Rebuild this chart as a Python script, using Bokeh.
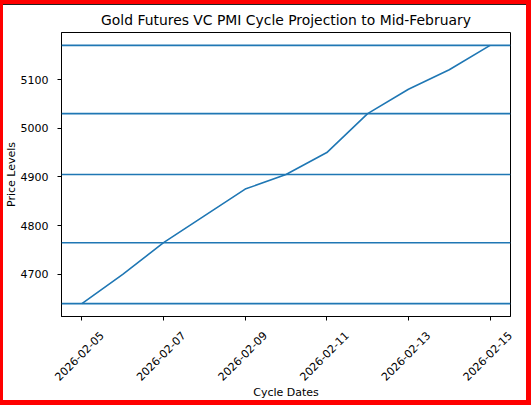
import datetime as dt
import math
from bokeh.plotting import figure
from bokeh.models import Span, FixedTicker, Range1d, LinearAxis
from bokeh.embed import file_html
from bokeh.resources import INLINE

# ---- data ----
dates = ["2026-02-05", "2026-02-06", "2026-02-07", "2026-02-08", "2026-02-09", "2026-02-10",
         "2026-02-11", "2026-02-12", "2026-02-13", "2026-02-14", "2026-02-15"]
prices = [4640, 4700, 4765, 4820, 4875, 4905, 4950, 5030, 5080, 5120, 5170]
levels = [4640, 4765, 4905, 5030, 5170]
x_tick_labels = ["2026-02-05", "2026-02-07", "2026-02-09", "2026-02-11", "2026-02-13", "2026-02-15"]
y_ticks = [4700, 4800, 4900, 5000, 5100]

title = "Gold Futures VC PMI Cycle Projection to Mid-February"
x_label = "Cycle Dates"
y_label = "Price Levels"

BLUE = "#1f77b4"
FONT = "DejaVu Sans"
W, H = 531, 405
ML, MR, MT, MB = 61, 21, 32, 89
DAY = 86400000.0


def to_ms(s):
    d = dt.datetime.strptime(s, "%Y-%m-%d").replace(tzinfo=dt.timezone.utc)
    return d.timestamp() * 1000.0


xs = [to_ms(d) for d in dates]
span_x = xs[-1] - xs[0]
x0, x1 = xs[0] - span_x * 0.05, xs[-1] + span_x * 0.05
ymin, ymax = min(levels + prices), max(levels + prices)
pad_y = (ymax - ymin) * 0.05

p = figure(
    width=W, height=H,
    x_axis_type="datetime",
    output_backend="svg",
    toolbar_location=None,
    x_range=Range1d(x0, x1),
    y_range=Range1d(ymin - pad_y, ymax + pad_y),
    min_border_left=ML, min_border_right=MR, min_border_top=MT, min_border_bottom=MB,
    title=title,
)
p.stylesheets = [
    ":host { position: relative; }"
    ":host::after { content: ''; position: absolute; left: 0; top: 0; right: 0; bottom: 0;"
    " border-style: solid; border-color: red; border-width: 4px 5px 5px 3px;"
    " pointer-events: none; z-index: 1000; }"
    ":host::before { content: ''; position: absolute; left: 3px; right: 5px; top: 4px; height: 1px;"
    " background: #222222; pointer-events: none; z-index: 1000; }"
]

p.line(xs, prices, line_color=BLUE, line_width=1.6)
for lv in levels:
    p.add_layout(Span(location=lv, dimension="width", line_color=BLUE, line_width=1.6))

p.title.text_font = FONT
p.title.text_font_size = "13.9px"
p.title.text_font_style = "normal"
p.title.align = "center"
p.title.text_color = "#000000"

p.xgrid.visible = False
p.ygrid.visible = False
p.outline_line_color = "#000000"
p.outline_line_width = 1
p.background_fill_color = "white"
p.border_fill_color = "white"

tick_ms = [to_ms(t) for t in x_tick_labels]
p.xaxis.ticker = FixedTicker(ticks=tick_ms)
p.xaxis.major_label_overrides = {t: "" for t in tick_ms}
p.yaxis.ticker = FixedTicker(ticks=y_ticks)

# second (label-only) axis, shifted so the rotated labels are centred on their ticks
shift = 0.49 * DAY
p.extra_x_ranges = {"labels": Range1d(x0 - shift, x1 - shift)}
lab_ax = LinearAxis(x_range_name="labels", ticker=FixedTicker(ticks=tick_ms),
                    major_label_overrides={t: s for t, s in zip(tick_ms, x_tick_labels)})
lab_ax.major_label_orientation = math.pi / 4
lab_ax.axis_line_color = None
lab_ax.major_tick_line_color = None
lab_ax.major_tick_out = 0
lab_ax.major_tick_in = 0
lab_ax.minor_tick_line_color = None
lab_ax.major_label_standoff = 13
p.add_layout(lab_ax, "below")

for ax in (p.xaxis[0], p.yaxis[0], lab_ax):
    if ax is not lab_ax:
        ax.axis_line_color = "#000000"
        ax.major_tick_line_color = "#000000"
        ax.major_tick_out = 4
        ax.major_tick_in = 0
    ax.minor_tick_line_color = None
    ax.major_label_text_font = FONT
    ax.major_label_text_font_size = "11px"
    ax.major_label_text_color = "#000000"
    ax.axis_label_text_font = FONT
    ax.axis_label_text_font_size = "11px"
    ax.axis_label_text_font_style = "normal"
    ax.axis_label_text_color = "#000000"

p.yaxis.major_label_standoff = 9
p.yaxis.axis_label_standoff = 0
p.xaxis[0].major_label_standoff = 0

lab_ax.axis_label = x_label
lab_ax.axis_label_standoff = -1
p.yaxis.axis_label = y_label

open("out.html", "w").write(file_html(p, INLINE))
